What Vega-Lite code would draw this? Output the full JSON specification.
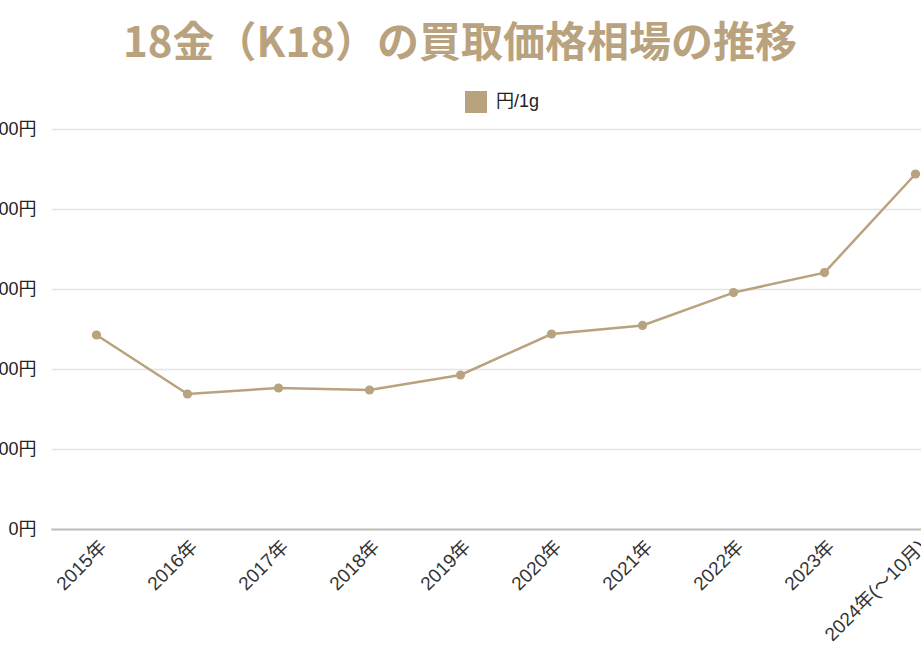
{
  "$schema": "https://vega.github.io/schema/vega-lite/v6.json",
  "autosize": {"type": "none"},
  "padding": {"left": 51, "top": 129, "right": -40, "bottom": 126},
  "width": 910,
  "height": 400,
  "background": "white",
  "title": {
    "text": "18金（K18）の買取価格相場の推移",
    "frame": "group",
    "anchor": "middle",
    "dx": -46,
    "dy": 44,
    "offset": 36,
    "baseline": "alphabetic",
    "font": "Noto Sans CJK JP",
    "fontWeight": "bold",
    "fontSize": 42,
    "color": "#b9a27e"
  },
  "data": {
    "values": [
      {"year": "2015年", "price": 4850, "series": "円/1g"},
      {"year": "2016年", "price": 3375, "series": "円/1g"},
      {"year": "2017年", "price": 3525, "series": "円/1g"},
      {"year": "2018年", "price": 3475, "series": "円/1g"},
      {"year": "2019年", "price": 3850, "series": "円/1g"},
      {"year": "2020年", "price": 4875, "series": "円/1g"},
      {"year": "2021年", "price": 5090, "series": "円/1g"},
      {"year": "2022年", "price": 5910, "series": "円/1g"},
      {"year": "2023年", "price": 6410, "series": "円/1g"},
      {"year": "2024年(～10月)", "price": 8875, "series": "円/1g"}
    ]
  },
  "encoding": {
    "x": {
      "field": "year",
      "type": "ordinal",
      "sort": null,
      "scale": {"type": "point", "padding": 0.5},
      "axis": {
        "title": null,
        "labelAngle": -45,
        "labelFontSize": 19,
        "labelFont": "Liberation Sans, Noto Sans CJK JP",
        "labelColor": "#333",
        "labelPadding": 8,
        "ticks": false,
        "grid": false,
        "domainColor": "#bdbdbd",
        "domainWidth": 2
      }
    },
    "y": {
      "field": "price",
      "type": "quantitative",
      "scale": {"domain": [0, 10000]},
      "axis": {
        "title": null,
        "values": [0, 2000, 4000, 6000, 8000, 10000],
        "labelExpr": "format(datum.value, ',') + '円'",
        "labelFontSize": 18,
        "labelFont": "Liberation Sans, Noto Sans CJK JP",
        "labelColor": "#222",
        "labelPadding": 15,
        "ticks": false,
        "domain": false,
        "gridColor": "#e4e4e4",
        "gridWidth": 1.5
      }
    }
  },
  "layer": [
    {
      "mark": {"type": "line", "color": "#b9a27e", "strokeWidth": 2.5}
    },
    {
      "mark": {"type": "point", "filled": true, "opacity": 1, "size": 85},
      "encoding": {
        "color": {
          "field": "series",
          "type": "nominal",
          "scale": {"range": ["#b9a27e"]},
          "legend": {
            "title": null,
            "orient": "none",
            "legendX": 414,
            "legendY": -38,
            "symbolType": "square",
            "symbolSize": 484,
            "symbolStrokeWidth": 0,
            "labelFontSize": 18,
            "labelFont": "Liberation Sans, Noto Sans CJK JP",
            "labelColor": "#222",
            "labelOffset": 9
          }
        }
      }
    }
  ],
  "config": {"view": {"stroke": null}}
}
